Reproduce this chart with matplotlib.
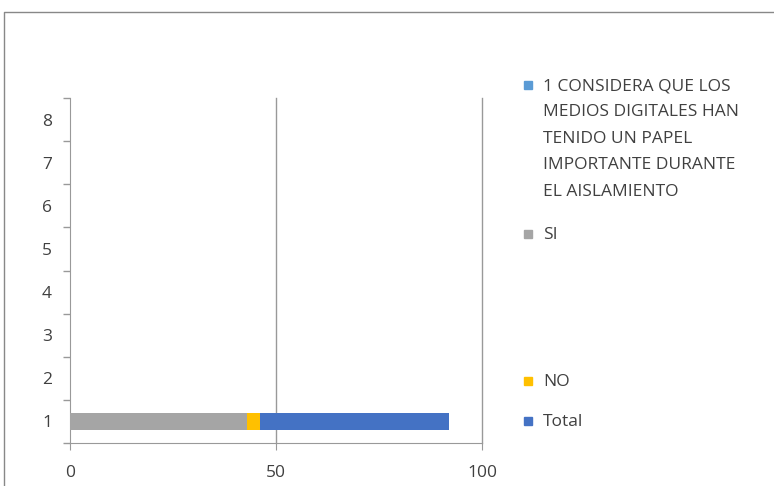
import matplotlib.pyplot as plt
from matplotlib.patches import Rectangle
from matplotlib.lines import Line2D

plt.rcParams["font.family"] = ["Open Sans", "DejaVu Sans"]

categories = [1, 2, 3, 4, 5, 6, 7, 8]
series_names = [
    "1 CONSIDERA QUE LOS\nMEDIOS DIGITALES HAN\nTENIDO UN PAPEL\nIMPORTANTE DURANTE\nEL AISLAMIENTO",
    "SI",
    "NO",
    "Total",
]
# only category 1 has data
series_values = {
    "1 CONSIDERA QUE LOS\nMEDIOS DIGITALES HAN\nTENIDO UN PAPEL\nIMPORTANTE DURANTE\nEL AISLAMIENTO": [0],
    "SI": [43],
    "NO": [3],
    "Total": [46],
}
colors = ["#5B9BD5", "#A5A5A5", "#FFC000", "#4472C4"]
x_ticks = [0, 50, 100]

W, H = 774, 486
fig = plt.figure(figsize=(W / 100, H / 100), dpi=100)
ax = fig.add_axes([70 / W, 1 - 443 / H, (482 - 70) / W, (443 - 98) / H])

left = [0]
for name, color in zip(series_names, colors):
    vals = series_values[name]
    ax.barh(categories[: len(vals)], vals, left=left, height=0.38, color=color, zorder=3)
    left = [l + v for l, v in zip(left, vals)]

ax.set_xlim(0, 100)
ax.set_ylim(0.5, 8.5)
ax.set_xticks(x_ticks)
ax.set_yticks(categories)
ax.set_yticks([c + 0.5 for c in [0] + categories], minor=True)
ax.tick_params(axis="y", which="major", length=0, pad=13, labelsize=12.5, labelcolor="#404040")
ax.tick_params(axis="y", which="minor", length=5, color="#999999", width=1)
ax.tick_params(axis="x", length=5, color="#999999", pad=11, labelsize=12.5, labelcolor="#404040")

for x in x_ticks[1:]:
    ax.axvline(x, color="#999999", linewidth=1, zorder=0, clip_on=False)
for side in ["top", "right"]:
    ax.spines[side].set_visible(False)
for side in ["left", "bottom"]:
    ax.spines[side].set_color("#999999")

# legend drawn by hand to match the spread-out layout
legend_y = [85, 234, 381, 421]
for name, color, y in zip(series_names, colors, legend_y):
    fig.patches.append(Rectangle((524 / W, 1 - (y + 4) / H), 8 / W, 8 / H,
                                 transform=fig.transFigure, color=color))
    fig.text(543 / W, 1 - (y - 7) / H, name, fontsize=12.5, color="#404040",
             va="top", ha="left", linespacing=1.87)

# outer chart frame
fig.lines.append(Line2D([4 / W, 4 / W, 1], [0, 1 - 12 / H, 1 - 12 / H],
                        transform=fig.transFigure, color="#888888", linewidth=1))

fig.savefig("out.png", dpi=100)
